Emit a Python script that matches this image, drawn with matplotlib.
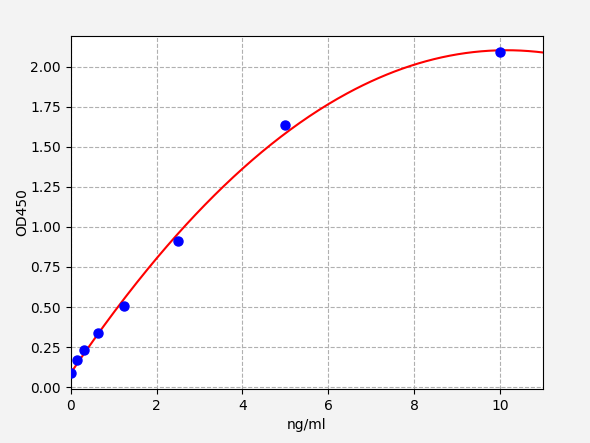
import numpy as np
import matplotlib.pyplot as plt

# Standard curve data
conc = [0, 0.156, 0.3125, 0.625, 1.25, 2.5, 5, 10]
od = [0.09, 0.17, 0.23, 0.34, 0.505, 0.912, 1.635, 2.095]

# Quadratic fit
coef = np.polyfit(conc, od, 2)
xs = np.linspace(0, 11, 300)
ys = np.polyval(coef, xs)

fig = plt.figure(figsize=(5.9, 4.43), dpi=100, facecolor='#f3f3f3')
ax = fig.add_subplot(111)
fig.subplots_adjust(left=0.12, right=0.92, top=0.919, bottom=0.122)

ax.plot(xs, ys, color='red', lw=1.5, zorder=2)
ax.plot(conc, od, 'o', color='blue', ms=6.5, zorder=3)

ax.set_xlim(0, 11)
ax.set_ylim(-0.012, 2.194)
ax.set_yticks(np.arange(0, 2.01, 0.25))
ax.yaxis.set_major_formatter(plt.FormatStrFormatter('%.2f'))
ax.grid(True, linestyle='--', color='#b0b0b0', lw=0.8)
ax.set_xlabel('ng/ml')
ax.set_ylabel('OD450', labelpad=1)

plt.savefig("out.png", dpi=100, facecolor=fig.get_facecolor())
